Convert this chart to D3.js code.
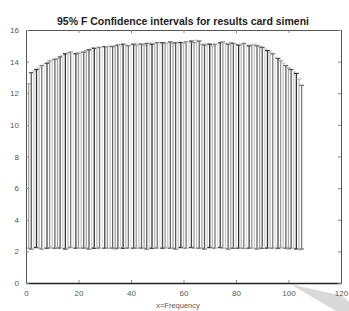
<!DOCTYPE html>
<html>
<head>
<meta charset="utf-8">
<script src="https://cdn.jsdelivr.net/npm/d3@7"></script>
<style>
body { margin: 0; background: #fff; }
text { font-family: "Liberation Sans", Arial, sans-serif; }
</style>
</head>
<body>
<div id="chart"></div>
<script>
var xTicks = [0, 20, 40, 60, 80, 100, 120];
var yTicks = [0, 2, 4, 6, 8, 10, 12, 14, 16];

var freq = d3.range(1, 106);
var upper = [12.6, 13.3, 13.4, 13.5, 13.6, 13.75, 13.85, 13.9, 14.05, 14.1,
	14.15, 14.2, 14.3, 14.4, 14.5, 14.55, 14.6, 14.55, 14.5, 14.55,
	14.6, 14.6, 14.7, 14.75, 14.85, 14.85, 14.9, 14.9, 14.95, 14.95,
	14.95, 15.0, 14.95, 15.0, 15.05, 15.0, 15.1, 15.05, 15.0, 15.1,
	15.1, 15.05, 15.15, 15.1, 15.05, 15.15, 15.2, 15.1, 15.15, 15.2,
	15.1, 15.2, 15.15, 15.2, 15.25, 15.15, 15.2, 15.25, 15.2, 15.15,
	15.25, 15.2, 15.3, 15.2, 15.35, 15.3, 15.1, 15.05, 15.15, 15.1,
	15.0, 15.1, 15.15, 15.2, 15.25, 15.15, 15.1, 15.2, 15.15, 15.1,
	15.05, 15.1, 15.15, 15.05, 15.0, 15.05, 15.1, 15.0, 14.95, 14.9,
	14.8, 14.7, 14.6, 14.5, 14.3, 14.2, 14.05, 13.9, 13.75, 13.6,
	13.5, 13.35, 13.25, 12.9, 12.5];
var lower = [2.2, 2.15, 2.2, 2.25, 2.2, 2.15, 2.2, 2.2, 2.25, 2.2,
	2.2, 2.25, 2.2, 2.2, 2.15, 2.2, 2.25, 2.2, 2.2, 2.2,
	2.25, 2.2, 2.2, 2.15, 2.2, 2.2, 2.25, 2.2, 2.2, 2.2,
	2.2, 2.25, 2.2, 2.15, 2.2, 2.2, 2.2, 2.25, 2.2, 2.2,
	2.2, 2.2, 2.25, 2.2, 2.2, 2.15, 2.2, 2.2, 2.25, 2.2,
	2.2, 2.2, 2.25, 2.2, 2.2, 2.2, 2.15, 2.2, 2.25, 2.2,
	2.2, 2.2, 2.25, 2.2, 2.2, 2.2, 2.2, 2.15, 2.2, 2.25,
	2.2, 2.2, 2.2, 2.25, 2.2, 2.2, 2.15, 2.2, 2.2, 2.25,
	2.2, 2.2, 2.2, 2.25, 2.2, 2.2, 2.2, 2.15, 2.2, 2.2,
	2.25, 2.2, 2.2, 2.2, 2.15, 2.2, 2.25, 2.2, 2.2, 2.15,
	2.2, 2.2, 2.15, 2.1, 2.15];

var shades = ["#a8a8a8", "#5a5a5a", "#d0d0d0", "#333333", "#bcbcbc", "#7a7a7a", "#e0e0e0", "#474747", "#9a9a9a", "#c8c8c8", "#666666"];

var svg = d3.select("#chart").append("svg")
	.attr("width", 349)
	.attr("height", 311);

var x = d3.scaleLinear().domain([0, 120]).range([26, 341]);
var y = d3.scaleLinear().domain([0, 16]).range([283, 30]);

// page fold shadow
svg.append("path")
	.attr("d", "M290,284 L343,296 L349,302 L349,311 L336,311 Z")
	.style("fill", "#d9d9d9");

var intervals = freq.map(function (f, i) { return { f: f, lo: lower[i], hi: upper[i], i: i }; });

var g = svg.append("g");
var bars = g.selectAll("g.ci")
	.data(intervals)
	.enter()
	.append("g")
	.attr("class", "ci")
	.style("stroke", function (d) { return shades[d.i % shades.length]; })
	.style("stroke-width", 1.3);
bars.append("line")
	.attr("x1", function (d) { return x(d.f); })
	.attr("x2", function (d) { return x(d.f); })
	.attr("y1", function (d) { return y(d.lo); })
	.attr("y2", function (d) { return y(d.hi); });
bars.append("line")
	.attr("x1", function (d) { return x(d.f - 0.9); })
	.attr("x2", function (d) { return x(d.f + 0.9); })
	.attr("y1", function (d) { return y(d.hi); })
	.attr("y2", function (d) { return y(d.hi); });
bars.append("line")
	.attr("x1", function (d) { return x(d.f - 0.9); })
	.attr("x2", function (d) { return x(d.f + 0.9); })
	.attr("y1", function (d) { return y(d.lo); })
	.attr("y2", function (d) { return y(d.lo); });

// axes box with inward ticks
var axBottom = svg.append("g").attr("transform", "translate(0,283)")
	.call(d3.axisBottom(x).tickValues(xTicks).tickSizeInner(-3).tickSizeOuter(0).tickPadding(7));
var axTop = svg.append("g").attr("transform", "translate(0,30)")
	.call(d3.axisTop(x).tickValues(xTicks).tickSizeInner(-3).tickSizeOuter(0).tickFormat(""));
var axLeft = svg.append("g").attr("transform", "translate(26,0)")
	.call(d3.axisLeft(y).tickValues(yTicks).tickSizeInner(-3).tickSizeOuter(0).tickPadding(7));
var axRight = svg.append("g").attr("transform", "translate(341,0)")
	.call(d3.axisRight(y).tickValues(yTicks).tickSizeInner(-3).tickSizeOuter(0).tickFormat(""));

[axBottom, axTop, axLeft, axRight].forEach(function (a) {
	a.selectAll("path").style("stroke", "#555");
	a.selectAll("line").style("stroke", "#888");
	a.selectAll("text").style("font-size", "8px").style("fill", "#555")
		.style("font-family", "Liberation Sans, Arial, sans-serif");
});
axBottom.select("path").style("stroke", "#222").style("stroke-width", 1.5);

svg.append("text")
	.attr("x", 183)
	.attr("y", 25)
	.attr("text-anchor", "middle")
	.style("font-size", "10.5px")
	.style("font-weight", "bold")
	.style("fill", "#222")
	.text("95% F Confidence intervals for results card simeni");

svg.append("text")
	.attr("x", 178)
	.attr("y", 308)
	.attr("text-anchor", "middle")
	.style("font-size", "7.5px")
	.style("fill", "#555")
	.text("x=Frequency");
</script>
</body>
</html>
